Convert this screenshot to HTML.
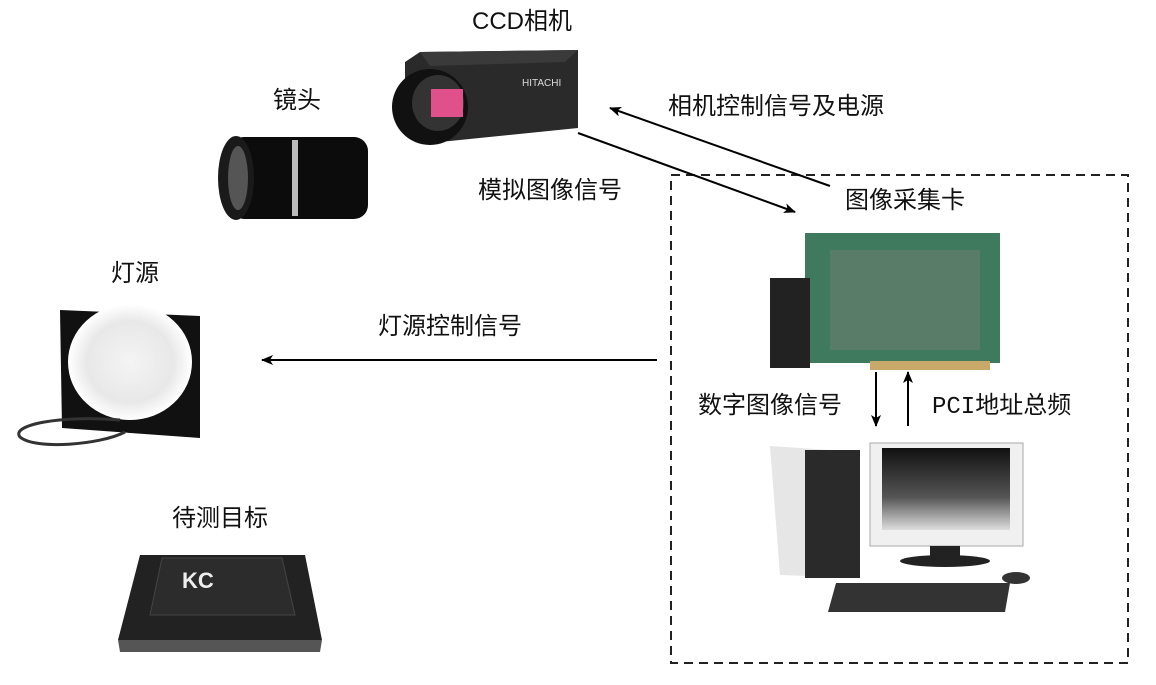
<!DOCTYPE html>
<html><head><meta charset="utf-8"><style>
html,body{margin:0;padding:0;background:#fff;}
svg{display:block;}
text{font-family:"Liberation Sans","Noto Sans CJK SC",sans-serif;font-size:24px;fill:#111;}
</style></head><body>
<svg width="1156" height="685" viewBox="0 0 1156 685" xmlns="http://www.w3.org/2000/svg">
<defs>
<marker id="ah" markerWidth="12" markerHeight="10" refX="11" refY="5" orient="auto" markerUnits="userSpaceOnUse">
<path d="M0,0 L12,5 L0,10 L3,5 z" fill="#000"/></marker>
<radialGradient id="lg" cx="0.5" cy="0.5" r="0.5"><stop offset="0" stop-color="#f4f4f4"/><stop offset="0.7" stop-color="#e8e8e8"/><stop offset="1" stop-color="#fff"/></radialGradient>
<linearGradient id="mon" x1="0" y1="0" x2="0" y2="1"><stop offset="0" stop-color="#111"/><stop offset="0.6" stop-color="#555"/><stop offset="1" stop-color="#ddd"/></linearGradient>
</defs>
<rect x="671" y="175" width="457" height="488" fill="none" stroke="#222" stroke-width="2" stroke-dasharray="9,6"/>

<!-- camera -->
<polygon points="405,62 420,52 578,50 578,128 440,142 405,130" fill="#2a2a2a"/>
<polygon points="420,52 578,50 565,62 430,66" fill="#3a3a3a"/>
<ellipse cx="430" cy="107" rx="38" ry="38" fill="#111"/>
<ellipse cx="438" cy="103" rx="26" ry="28" fill="#333"/>
<rect x="431" y="89" width="32" height="28" fill="#e0508a"/>
<text x="522" y="86" style="font-size:10px;fill:#ddd">HITACHI</text>
<!-- lens -->
<rect x="230" y="137" width="138" height="82" rx="14" fill="#0c0c0c"/>
<ellipse cx="236" cy="178" rx="18" ry="42" fill="#1a1a1a"/>
<ellipse cx="238" cy="178" rx="10" ry="32" fill="#555"/>
<rect x="292" y="140" width="6" height="76" fill="#bbb"/>
<!-- lamp -->
<polygon points="60,310 200,316 200,438 62,428" fill="#111"/>
<ellipse cx="130" cy="362" rx="62" ry="58" fill="url(#lg)"/>
<path d="M120,420 C60,415 10,425 20,437 C35,450 100,445 125,432" fill="none" stroke="#333" stroke-width="3"/>
<!-- chip -->
<polygon points="140,555 305,555 322,640 118,640" fill="#222"/>
<polygon points="118,640 322,640 320,652 120,652" fill="#555"/>
<polygon points="162,558 282,558 295,615 150,615" fill="#2c2c2c" stroke="#444"/>
<text x="182" y="588" style="font-size:22px;font-weight:bold;fill:#eee">KC</text>
<!-- capture card -->
<rect x="805" y="233" width="195" height="130" fill="#3f7a5e"/>
<rect x="830" y="250" width="150" height="100" fill="#6a7d72" opacity="0.6"/>
<rect x="770" y="278" width="40" height="90" fill="#222"/>
<rect x="870" y="361" width="120" height="9" fill="#c9a96a"/>
<!-- tower -->
<polygon points="770,446 860,452 860,578 780,575" fill="#e6e6e6"/>
<rect x="805" y="450" width="55" height="128" fill="#2a2a2a"/>
<!-- monitor -->
<rect x="870" y="443" width="153" height="103" fill="#f0f0f0" stroke="#aaa"/>
<rect x="882" y="448" width="128" height="82" fill="url(#mon)"/>
<rect x="930" y="546" width="30" height="12" fill="#222"/>
<ellipse cx="945" cy="561" rx="45" ry="6" fill="#222"/>
<polygon points="836,583 1010,583 1005,612 828,612" fill="#333"/>
<ellipse cx="1016" cy="578" rx="14" ry="6" fill="#333"/>

<!-- arrows -->
<line x1="578" y1="133" x2="795" y2="212" stroke="#000" stroke-width="2" marker-end="url(#ah)"/>
<line x1="830" y1="186" x2="610" y2="108" stroke="#000" stroke-width="2" marker-end="url(#ah)"/>
<line x1="657" y1="360" x2="262" y2="360" stroke="#000" stroke-width="2" marker-end="url(#ah)"/>
<line x1="876" y1="372" x2="876" y2="426" stroke="#000" stroke-width="2" marker-end="url(#ah)"/>
<line x1="908" y1="426" x2="908" y2="372" stroke="#000" stroke-width="2" marker-end="url(#ah)"/>

<!-- labels -->
<text x="472" y="29">CCD相机</text>
<text x="273" y="108">镜头</text>
<text x="668" y="114">相机控制信号及电源</text>
<text x="478" y="198">模拟图像信号</text>
<text x="845" y="208">图像采集卡</text>
<text x="111" y="281">灯源</text>
<text x="378" y="334">灯源控制信号</text>
<text x="698" y="413">数字图像信号</text>
<text x="932" y="413" style="font-family:'Liberation Mono','Noto Sans CJK SC',monospace">PCI地址总频</text>
<text x="172" y="526">待测目标</text>
</svg>
</body></html>
